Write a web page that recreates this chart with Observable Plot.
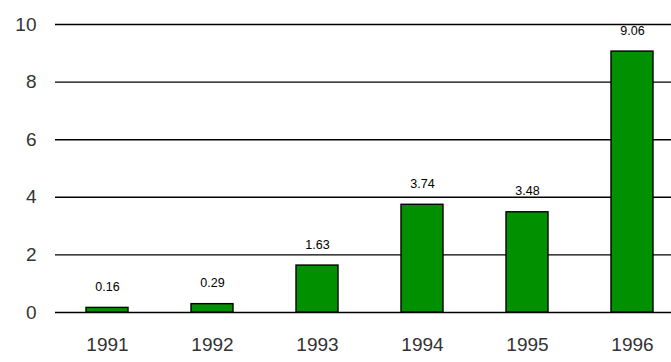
<!DOCTYPE html>
<html><head><meta charset="utf-8">
<script src="https://cdn.jsdelivr.net/npm/d3@7"></script>
<script src="https://cdn.jsdelivr.net/npm/@observablehq/plot@0.6"></script>
<style>body{margin:0;background:#fff}#c{font-family:"Liberation Sans",Arial,sans-serif}</style>
</head><body><div id="c"></div>
<script>
const years = ["1991","1992","1993","1994","1995","1996"];
const values = [0.16, 0.29, 1.63, 3.74, 3.48, 9.06];
const labels = ["0.16","0.29","1.63","3.74","3.48","9.06"];
const yTicks = [0, 2, 4, 6, 8, 10];
const data = years.map((y, i) => ({year: y, value: values[i], label: labels[i]}));
const chart = Plot.plot({
  width: 671, height: 362,
  marginLeft: 55, marginRight: 0, marginTop: 24, marginBottom: 50,
  style: {fontFamily: '"Liberation Sans", Arial, sans-serif', background: "white", color: "#000"},
  x: {domain: years, range: [55, 683], paddingInner: 0.6, paddingOuter: 0.29, label: null},
  y: {domain: [0, 10], ticks: yTicks, label: null},
  marks: [
    Plot.ruleY(yTicks, {stroke: "#000", strokeWidth: 1.4}),
    Plot.barY(data, {x: "year", y: "value", fill: "#009000", stroke: "#000", strokeWidth: 1.4}),
    Plot.text(data, {x: "year", y: "value", text: "label", dy: -21, fontSize: 12.5, fill: "#000"}),
    Plot.axisY({ticks: yTicks, tickSize: 0, tickPadding: 19, fontSize: 19, label: null, fill: "#333"}),
    Plot.axisX({tickSize: 0, tickPadding: 25, fontSize: 19, label: null, fill: "#333"})
  ]
});
document.getElementById("c").appendChild(chart);
</script></body></html>
